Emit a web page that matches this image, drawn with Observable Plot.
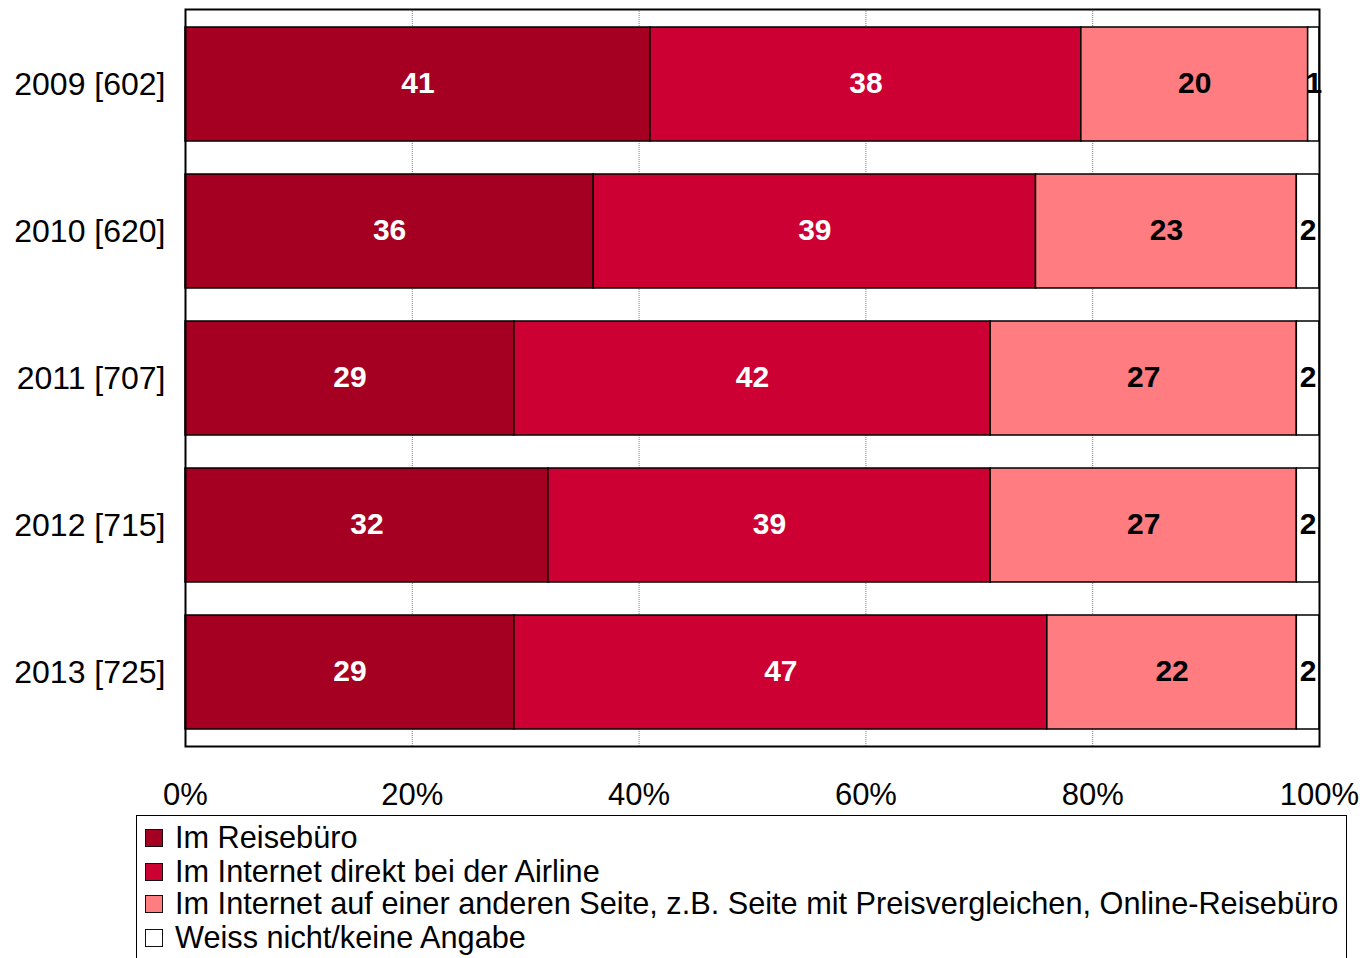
<!DOCTYPE html>
<html>
<head>
<meta charset="utf-8">
<script src="https://cdn.jsdelivr.net/npm/d3@7"></script>
<script src="https://cdn.jsdelivr.net/npm/@observablehq/plot@0.6"></script>
<style>
  html, body { margin: 0; padding: 0; background: #fff; }
  body { width: 1372px; height: 958px; overflow: hidden; position: relative; font-family: "Liberation Sans", Arial, sans-serif; }
  #legend { position: absolute; left: 136px; top: 815px; width: 1211px; height: 160px; border: 1.5px solid #000; box-sizing: border-box; }
  .item { position: absolute; left: 8px; height: 34px; display: flex; align-items: center; font-size: 30.7px; color: #000; white-space: nowrap; }
  .sw { width: 16px; height: 16px; border: 1.5px solid #111; margin-right: 12px; flex: none; }
</style>
</head>
<body>
<div id="chart"></div>
<div id="legend"></div>
<script>
const years = ["2009 [602]", "2010 [620]", "2011 [707]", "2012 [715]", "2013 [725]"];
const series = [
  "Im Reisebüro",
  "Im Internet direkt bei der Airline",
  "Im Internet auf einer anderen Seite, z.B. Seite mit Preisvergleichen, Online-Reisebüro",
  "Weiss nicht/keine Angabe"
];
const colors = ["#A50021", "#CC0033", "#FF7C80", "#FFFFFF"];
const labelColors = ["#fff", "#fff", "#000", "#000"];
const reisebuero = [41, 36, 29, 32, 29];
const airline = [38, 39, 42, 39, 47];
const andereSeite = [20, 23, 27, 27, 22];
const weissNicht = [1, 2, 2, 2, 2];
const xTicks = [0, 20, 40, 60, 80, 100];

const valuesBySeries = [reisebuero, airline, andereSeite, weissNicht];
const data = [];
years.forEach((y, i) => {
  series.forEach((s, j) => {
    data.push({year: y, series: s, value: valuesBySeries[j][i], label: labelColors[j]});
  });
});

const hasAxes = typeof Plot.axisY === "function";
const axisMarks = hasAxes ? [
  Plot.axisX({ticks: xTicks, tickFormat: d => d + "%", tickSize: 0, tickPadding: 36, fontSize: 31, label: null}),
  Plot.axisY({tickSize: 0, tickPadding: 20, fontSize: 32, label: null})
] : [];

const chart = Plot.plot({
  width: 1372,
  height: 815,
  marginTop: 9,
  marginLeft: 185,
  marginRight: 53,
  marginBottom: 69,
  style: {fontSize: "31px", fontFamily: "'Liberation Sans', Arial, sans-serif", color: "#000", background: "#fff"},
  x: {domain: [0, 100], ticks: xTicks, tickFormat: d => d + "%", tickSize: 0, tickPadding: 36, label: null},
  y: {domain: years, paddingInner: 0.227, paddingOuter: 0.115, tickSize: 0, tickPadding: 20, label: null},
  color: {domain: series, range: colors},
  marks: [
    Plot.ruleX(xTicks.filter(d => d > 0 && d < 100), {stroke: "#808080", strokeWidth: 1, strokeDasharray: "1,1"}),
    Plot.barX(data, Plot.stackX({x: "value", y: "year", fill: "series", stroke: "#000", strokeWidth: 1.5})),
    Plot.text(data, Plot.stackX({x: "value", y: "year", z: "series", text: d => String(d.value), fill: "label", fontSize: 30, fontWeight: "bold", dy: -1.5, fontFamily: "'Liberation Sans', Arial, sans-serif"})),
    Plot.frame({stroke: "#000", strokeWidth: 2}),
    ...axisMarks
  ]
});
document.getElementById("chart").appendChild(chart);

const legend = document.getElementById("legend");
const tops = [5, 39, 71, 105];
series.forEach((s, j) => {
  const it = document.createElement("div");
  it.className = "item";
  it.style.top = tops[j] + "px";
  const sw = document.createElement("div");
  sw.className = "sw";
  sw.style.background = colors[j];
  it.appendChild(sw);
  const t = document.createElement("span");
  t.textContent = s;
  it.appendChild(t);
  legend.appendChild(it);
});
</script>
</body>
</html>
